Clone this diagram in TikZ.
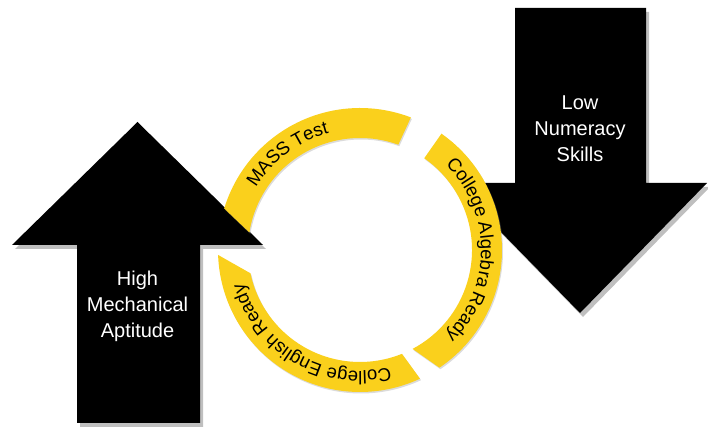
\documentclass[tikz,border=0pt]{standalone}
\usepackage{fontspec}
\setsansfont{Liberation Sans}
\usetikzlibrary{positioning,decorations.text,shadows}

\definecolor{ringyellow}{RGB}{250,208,28}
\newcommand{\ringfont}{\sffamily\fontsize{18.5}{20}\selectfont}

\tikzset{
  bigarrow/.style={fill=black, drop shadow={shadow xshift=3pt, shadow yshift=-4pt, fill=black!50, opacity=.5}},
  arrowtext/.style={text=white, font=\sffamily\fontsize{20}{26}\selectfont, align=center},
  ringpart/.style={fill=ringyellow, drop shadow={shadow xshift=1pt, shadow yshift=-1.5pt, fill=black!40, opacity=.35}},
  ringtext/.style={decorate, decoration={text along path, text align=center, text={|\ringfont|#1}}}
}

\begin{document}
\begin{tikzpicture}[x=1pt,y=1pt]
\useasboundingbox (0,0) rectangle (708,435);

\fill[bigarrow] (137.5,313) -- (263,190) -- (200,190) -- (200,12)
  -- (77,12) -- (77,190) -- (12,190) -- cycle;
\fill[bigarrow] (580,122) -- (707,252) -- (646,252) -- (646,427)
  -- (515,427) -- (515,252) -- (453,252) -- cycle;

\node (high) [arrowtext] at (137.5,129) {High\\Mechanical\\Aptitude};
\node (low) [arrowtext] at (580,306) {Low\\Numeracy\\Skills};

\begin{scope}[shift={(360,185)}]
\coordinate (c) at (0,0);

\fill[ringpart] (163:142pt) arc[start angle=163, end angle=69, radius=142pt]
  -- (70:112pt) arc[start angle=70, end angle=171, radius=112pt] -- cycle;
\fill[ringpart] (55:142pt) arc[start angle=55, end angle=-56, radius=142pt]
  -- (-62:112pt) arc[start angle=-62, end angle=55, radius=112pt] -- cycle;
\fill[ringpart] (-65:142pt) arc[start angle=-65, end angle=-178, radius=142pt]
  -- (-168:112pt) arc[start angle=-168, end angle=-68, radius=112pt] -- cycle;

\path[ringtext=MASS Test] (187:121pt) arc[start angle=187, end angle=67, radius=121pt];
\path[ringtext=College Algebra Ready] (60:121pt) arc[start angle=60, end angle=-60, radius=121pt];
\path[ringtext=College English Ready] (-60:121pt) arc[start angle=-60, end angle=-180, radius=121pt];
\end{scope}

\end{tikzpicture}
\end{document}
